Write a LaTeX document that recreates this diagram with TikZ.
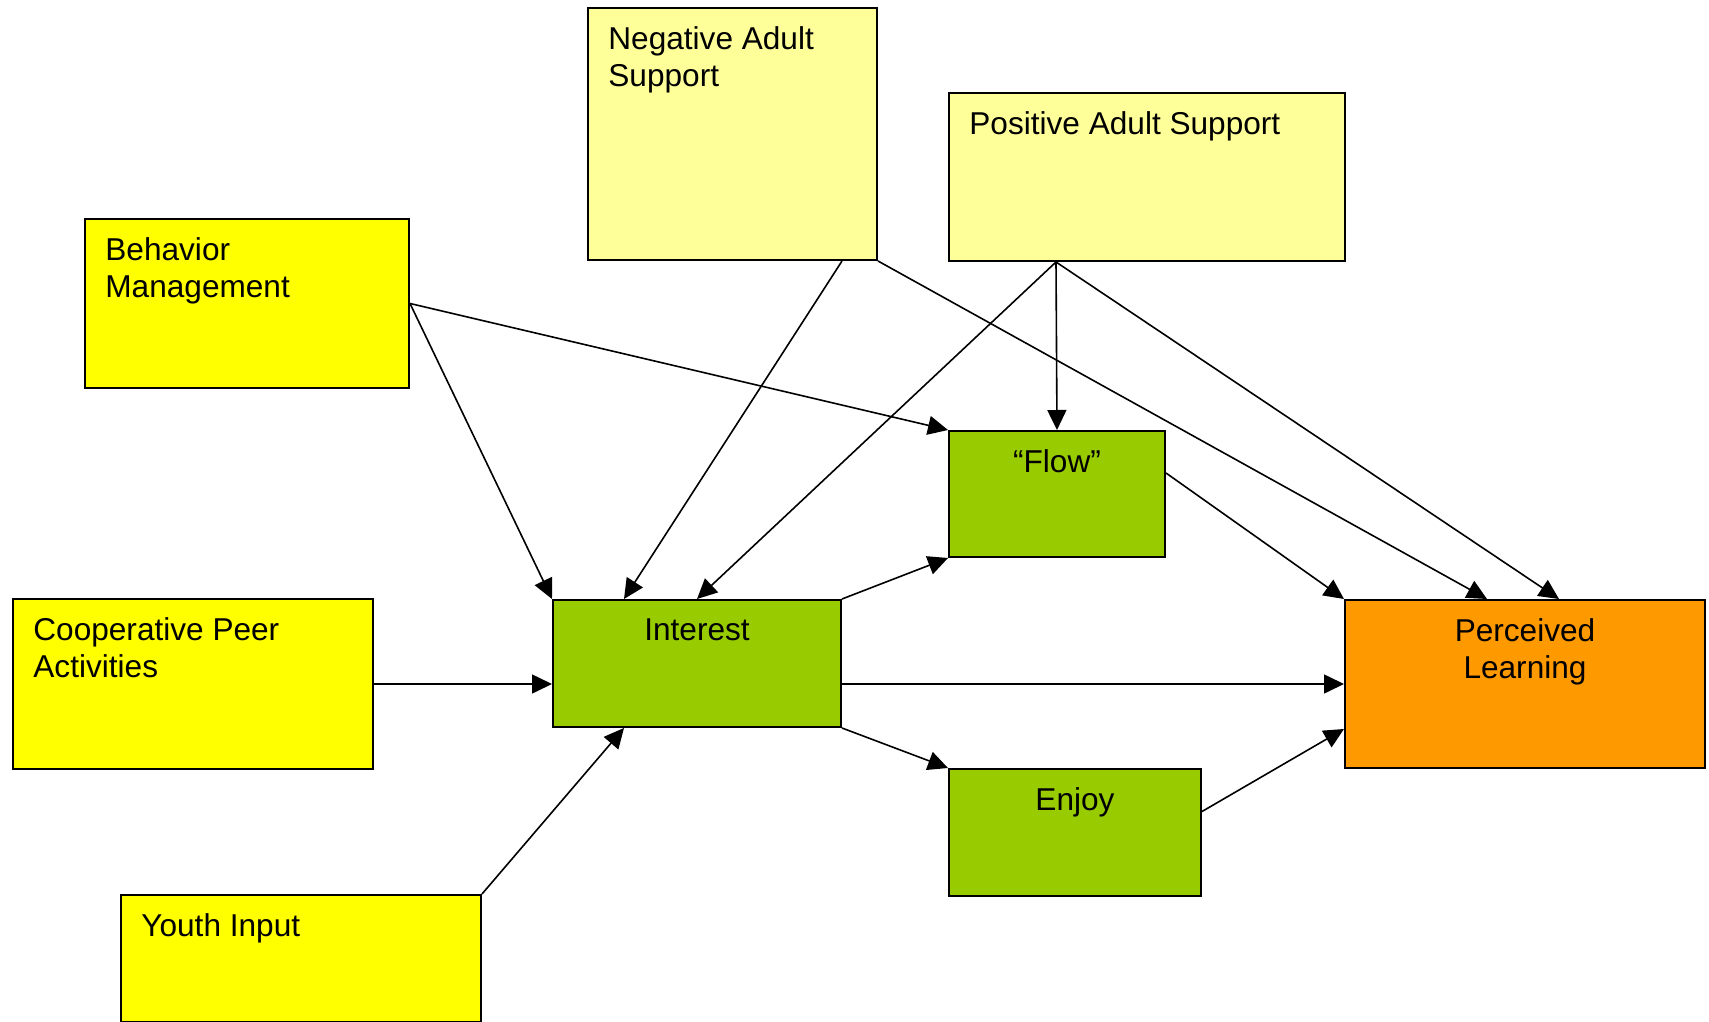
\documentclass[tikz,border=0pt]{standalone}
\usepackage{fontspec}
\setmainfont{Liberation Sans}
\usetikzlibrary{arrows.meta}
\definecolor{paleyel}{HTML}{FFFF99}
\definecolor{brightyel}{HTML}{FFFF00}
\definecolor{leafgreen}{HTML}{99CC00}
\definecolor{amber}{HTML}{FF9900}
\begin{document}
\begin{tikzpicture}[x=0.5pt,y=-0.5pt,
    box/.style={draw,line width=1pt,anchor=north west,inner sep=0pt},
    adult/.style={box,fill=paleyel},
    given/.style={box,fill=brightyel},
    mid/.style={box,fill=leafgreen},
    outcome/.style={box,fill=amber},
    lbl/.style={anchor=north west,align=left,inner sep=0pt,font=\fontsize{15.8}{18.5}\selectfont},
    ctr/.style={anchor=north,align=center,inner sep=0pt,font=\fontsize{15.8}{18.5}\selectfont},
    >={Triangle[length=10pt,width=9.5pt]},
    arr/.style={->,line width=0.8pt}]
\useasboundingbox (0,0) rectangle (1709,1022);
% boxes
\node[adult,minimum width=144.5pt,minimum height=126pt](neg) at (587,7){};
\node[adult,minimum width=198pt,minimum height=84pt](pos) at (948,92){};
\node[given,minimum width=162pt,minimum height=84.5pt](beh) at (84,218){};
\node[given,minimum width=180pt,minimum height=85pt](coop) at (12,598){};
\node[given,minimum width=180pt,minimum height=63.5pt](youth) at (120,894){};
\node[mid,minimum width=144pt,minimum height=63.5pt](int) at (552,599){};
\node[mid,minimum width=108pt,minimum height=63pt](flow) at (948,430){};
\node[mid,minimum width=126pt,minimum height=63.5pt](enjoy) at (948,768){};
\node[outcome,minimum width=180pt,minimum height=84pt](perc) at (1344,599){};
% texts
\node[lbl](negtxt) at ([shift={(10.5pt,-9.5pt)}]neg.north west){Negative Adult\\Support};
\node[lbl](postxt) at ([shift={(10.5pt,-9.5pt)}]pos.north west){Positive Adult Support};
\node[lbl](behtxt) at ([shift={(10.5pt,-9.5pt)}]beh.north west){Behavior\\Management};
\node[lbl](cooptxt) at ([shift={(10.5pt,-9.5pt)}]coop.north west){Cooperative Peer\\Activities};
\node[lbl](youthtxt) at ([shift={(10.5pt,-9.5pt)}]youth.north west){Youth Input};
\node[ctr](inttxt) at ([yshift=-9.5pt]int.north){Interest};
\node[ctr](flowtxt) at ([yshift=-9.5pt]flow.north){“Flow”};
\node[ctr](enjoytxt) at ([yshift=-9.5pt]enjoy.north){Enjoy};
\node[ctr](perctxt) at ([yshift=-9.5pt]perc.north){Perceived\\Learning};
% connectors
\coordinate(posfoot) at ([xshift=54pt]pos.south west);
\draw[arr](beh.east) -- (int.north west);
\draw[arr](beh.east) -- (flow.north west);
\draw[arr]([xshift=-18pt]neg.south east) -- ([xshift=36pt]int.north west);
\draw[arr](neg.south east) -- ([xshift=71.5pt]perc.north west);
\draw[arr](posfoot) -- (int.north);
\draw[arr](posfoot) -- (flow.north);
\draw[arr](posfoot) -- ([xshift=107.5pt]perc.north west);
\draw[arr](coop.east) -- (coop.east -| int.west);
\draw[arr](youth.north east) -- ([xshift=36pt]int.south west);
\draw[arr](int.north east) -- (flow.south west);
\draw[arr](int.east |- perc.west) -- (perc.west);
\draw[arr](int.south east) -- (enjoy.north west);
\draw[arr]([yshift=10.5pt]flow.east) -- (perc.north west);
\draw[arr]([yshift=10.5pt]enjoy.east) -- ([yshift=20pt]perc.south west);
\end{tikzpicture}
\end{document}
